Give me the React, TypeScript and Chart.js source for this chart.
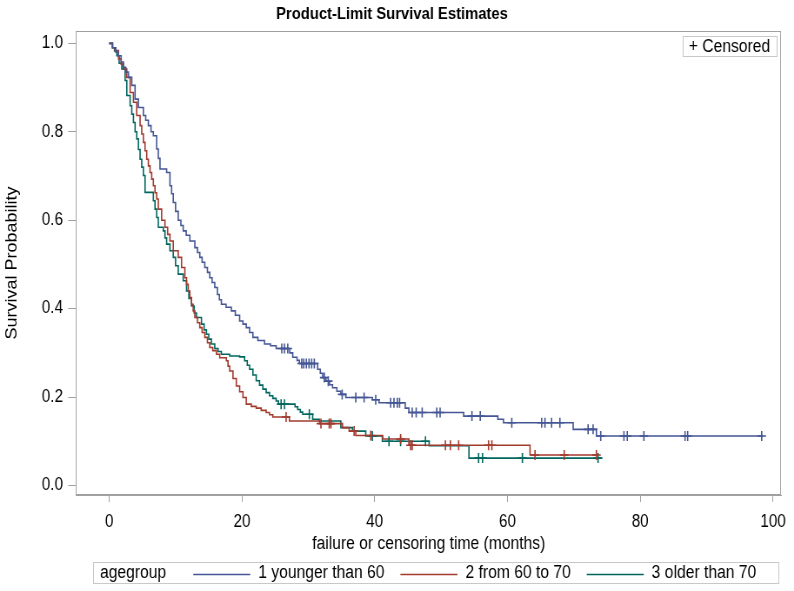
import React, { useEffect, useRef } from "react";
import { Chart, registerables } from "chart.js";

Chart.register(...registerables);

const FONT = "'Liberation Sans', Arial, sans-serif";

const chartTitle = "Product-Limit Survival Estimates";
const xAxisTitle = "failure or censoring time (months)";
const yAxisTitle = "Survival Probability";
const legendTitle = "agegroup";
const insetLabel = "+ Censored";

const groupLabels = ["1 younger than 60", "2 from 60 to 70", "3 older than 70"];
const groupColors = ["#445694", "#A23A2E", "#01665E"];

const xTicks = [0, 20, 40, 60, 80, 100];
const yTicks = [0, 0.2, 0.4, 0.6, 0.8, 1.0];

// [time (months), survival probability after the event]
const youngerSteps = [
  [0, 1], [0.5, 0.99], [1.0, 0.98], [1.4, 0.972], [1.8, 0.958], [2.15, 0.946], [2.5, 0.935],
  [2.9, 0.923], [3.4, 0.905], [3.9, 0.874], [4.4, 0.855], [5.15, 0.837], [5.5, 0.826],
  [5.9, 0.814], [6.3, 0.8], [6.65, 0.791], [7.15, 0.761], [7.4, 0.74], [7.65, 0.716],
  [8.65, 0.708], [9.15, 0.678], [9.4, 0.66], [9.65, 0.64], [10.0, 0.62], [10.4, 0.6],
  [10.8, 0.588], [11.15, 0.576], [11.6, 0.566], [12.15, 0.553], [12.9, 0.538], [13.3, 0.527],
  [13.65, 0.516], [14.0, 0.505], [14.4, 0.493], [14.8, 0.482], [15.15, 0.47], [15.5, 0.459],
  [15.9, 0.448], [16.3, 0.432], [16.6, 0.42], [16.9, 0.41], [17.6, 0.403], [18.4, 0.395],
  [19.0, 0.385], [19.65, 0.372], [20.15, 0.365], [20.65, 0.357], [21.15, 0.346], [21.65, 0.335],
  [22.4, 0.328], [23.4, 0.32], [24.3, 0.316], [25.15, 0.31], [27.2, 0.3], [27.65, 0.29],
  [28.3, 0.283], [28.65, 0.276], [31.4, 0.263], [31.8, 0.254], [32.15, 0.244], [32.65, 0.236],
  [33.2, 0.228], [33.65, 0.221], [34.3, 0.213], [34.9, 0.206], [35.65, 0.199], [39.65, 0.194],
  [40.65, 0.187], [44.6, 0.175], [45.15, 0.165], [53.4, 0.157], [58.55, 0.15], [59.4, 0.142],
  [69.9, 0.127], [73.4, 0.112], [98.5, 0.112],
];
const youngerCensored = [
  26.0, 26.4, 26.9, 29.0, 29.3, 29.7, 30.1, 30.5, 30.9, 32.4, 33.0, 35.1, 37.15, 38.4, 40.15,
  42.4, 42.9, 43.4, 43.75, 45.65, 46.25, 47.15, 49.35, 49.85, 54.65, 55.9, 60.65, 65.15, 65.65,
  66.65, 67.9, 72.15, 72.9, 74.05, 77.55, 78.05, 80.55, 86.75, 87.15, 98.3,
];

const middleSteps = [
  [0, 1], [0.5, 0.99], [0.9, 0.984], [1.4, 0.965], [1.8, 0.953], [2.15, 0.942], [2.65, 0.923],
  [3.15, 0.889], [3.65, 0.867], [4.15, 0.837], [4.65, 0.814], [4.9, 0.795], [5.15, 0.776],
  [5.4, 0.757], [5.65, 0.738], [5.9, 0.723], [6.15, 0.708], [6.4, 0.693], [6.65, 0.678],
  [6.9, 0.662], [7.15, 0.648], [7.4, 0.625], [7.9, 0.6], [8.4, 0.584], [8.8, 0.568],
  [9.15, 0.553], [9.65, 0.531], [10.4, 0.516], [10.9, 0.493], [11.4, 0.47], [11.65, 0.455],
  [11.9, 0.44], [12.15, 0.425], [12.4, 0.41], [12.65, 0.395], [12.9, 0.38], [13.3, 0.368],
  [13.65, 0.357], [14.0, 0.346], [14.4, 0.335], [14.8, 0.323], [15.15, 0.312], [15.6, 0.305],
  [16.15, 0.297], [16.65, 0.289], [17.65, 0.282], [17.9, 0.27], [18.15, 0.259], [18.65, 0.242],
  [19.15, 0.225], [19.65, 0.212], [20.15, 0.199], [20.65, 0.184], [21.4, 0.179], [22.15, 0.175],
  [22.9, 0.17], [23.65, 0.165], [24.15, 0.16], [24.65, 0.155], [27.15, 0.146], [31.7, 0.14],
  [35.15, 0.131], [36.15, 0.123], [37.15, 0.113], [41.2, 0.105], [45.15, 0.091], [63.4, 0.069],
  [73.5, 0.069],
];
const middleCensored = [
  26.65, 31.9, 33.15, 33.4, 36.9, 39.4, 43.9, 45.4, 45.65, 50.65, 51.4, 52.65, 57.15, 57.65,
  64.15, 68.55, 73.4,
];

const olderSteps = [
  [0, 1], [0.5, 0.99], [0.8, 0.983], [1.15, 0.972], [1.5, 0.955], [1.9, 0.942], [2.4, 0.916],
  [2.65, 0.882], [3.15, 0.859], [3.4, 0.84], [3.65, 0.821], [3.9, 0.8], [4.15, 0.784],
  [4.4, 0.76], [4.65, 0.738], [4.9, 0.72], [5.15, 0.701], [5.4, 0.663], [6.65, 0.644],
  [6.9, 0.625], [7.15, 0.606], [7.4, 0.584], [8.15, 0.576], [8.4, 0.56], [8.65, 0.546],
  [9.15, 0.531], [9.65, 0.516], [10.0, 0.497], [10.4, 0.478], [11.15, 0.463], [11.65, 0.44],
  [12.0, 0.423], [12.4, 0.406], [12.8, 0.39], [13.15, 0.38], [13.9, 0.365], [14.3, 0.352],
  [14.65, 0.342], [15.0, 0.331], [15.4, 0.32], [15.9, 0.31], [16.4, 0.303], [16.9, 0.297],
  [18.15, 0.293], [19.65, 0.291], [20.4, 0.282], [20.8, 0.272], [21.15, 0.263], [21.65, 0.25],
  [22.15, 0.237], [22.65, 0.227], [23.15, 0.218], [23.65, 0.21], [24.15, 0.203], [24.65, 0.197],
  [25.15, 0.191], [25.5, 0.184], [28.0, 0.178], [28.4, 0.172], [28.8, 0.166], [29.15, 0.161],
  [30.65, 0.15], [31.65, 0.146], [34.9, 0.131], [36.65, 0.123], [38.65, 0.112], [41.15, 0.1],
  [48.2, 0.09], [54.2, 0.062], [74.2, 0.062],
];
const olderCensored = [
  25.9, 26.4, 30.15, 39.65, 42.15, 43.9, 47.65, 55.65, 56.25, 62.25, 73.65,
];

const allSteps = [youngerSteps, middleSteps, olderSteps];
const allCensored = [youngerCensored, middleCensored, olderCensored];

// The reference text is horizontally condensed; the canvas is drawn wider and squeezed by K.
const K = 0.8697;
const W_OUT = 794;
const H_OUT = 591;
const W_INT = Math.round(W_OUT / K);

function survivalAt(steps: number[][], t: number): number {
  let v = steps[0][1];
  for (const [tt, s] of steps) {
    if (tt <= t) v = s;
    else break;
  }
  return v;
}

const overlayPlugin = {
  id: "samOverlay",
  afterDraw(chart: any) {
    const { ctx, chartArea } = chart;
    const { left, right, top, bottom } = chartArea;
    ctx.save();
    ctx.strokeStyle = "#a0a0a0";
    ctx.lineWidth = 1;
    ctx.strokeRect(Math.round(left) + 0.5, Math.round(top) + 0.5, Math.round(right - left) - 1, Math.round(bottom - top) - 1);

    // inset "+ Censored"
    ctx.font = `18px ${FONT}`;
    ctx.textBaseline = "middle";
    ctx.textAlign = "left";
    const insetW = Math.round(ctx.measureText(insetLabel).width + 13 / K);
    const insetX = Math.round(right - 4 / K - insetW);
    const insetY = Math.round(top + 5);
    ctx.fillStyle = "#ffffff";
    ctx.fillRect(insetX, insetY, insetW, 21);
    ctx.strokeStyle = "#c8c8c8";
    ctx.strokeRect(insetX + 0.5, insetY + 0.5, insetW - 1, 20);
    ctx.fillStyle = "#000000";
    ctx.fillText(insetLabel, insetX + 6 / K, insetY + 11);

    // bottom legend
    const boxL = Math.round(93 / K), boxR = Math.round(779 / K), boxT = 562, boxH = 22;
    ctx.strokeStyle = "#c8c8c8";
    ctx.strokeRect(boxL + 0.5, boxT + 0.5, boxR - boxL - 1, boxH - 1);
    const cy = boxT + boxH / 2 + 0.5;
    let x = boxL + 7 / K;
    ctx.fillStyle = "#000000";
    ctx.fillText(legendTitle, x, cy);
    x += ctx.measureText(legendTitle).width + 27 / K;
    groupLabels.forEach((lab, i) => {
      ctx.strokeStyle = groupColors[i];
      ctx.lineWidth = 1.6;
      ctx.beginPath();
      ctx.moveTo(x, Math.round(cy) + 0.5);
      ctx.lineTo(x + 57 / K, Math.round(cy) + 0.5);
      ctx.stroke();
      x += 65 / K;
      ctx.fillStyle = "#000000";
      ctx.fillText(lab, x, cy);
      x += ctx.measureText(lab).width + 16 / K;
    });
    ctx.restore();
  },
};

export default function App() {
  const canvasRef = useRef<HTMLCanvasElement | null>(null);

  useEffect(() => {
    if (!canvasRef.current) return;
    const tickSize = 17.5;
    const labelSize = 18;
    const titleSize = 17;
    const lh = 1.2;

    const datasets: any[] = [];
    allSteps.forEach((steps, i) => {
      datasets.push({
        label: groupLabels[i],
        data: steps.map(([t, s]) => ({ x: t, y: s })),
        stepped: true,
        borderColor: groupColors[i],
        borderWidth: 1.6,
        pointRadius: 0,
        fill: false,
        order: 1,
      });
    });
    allCensored.forEach((times, i) => {
      datasets.push({
        label: groupLabels[i] + " censored",
        data: times.map((t) => ({ x: t, y: survivalAt(allSteps[i], t) })),
        showLine: false,
        pointStyle: "cross",
        pointRadius: 5,
        pointBorderWidth: 1.6,
        borderColor: groupColors[i],
        backgroundColor: groupColors[i],
        order: 0,
      });
    });

    const chart = new Chart(canvasRef.current, {
      type: "line",
      data: { datasets },
      options: {
        animation: false,
        responsive: false,
        devicePixelRatio: 1,
        layout: { padding: { left: 0, right: W_INT - 784 / K, top: 0, bottom: 35 } },
        plugins: {
          legend: { display: false },
          tooltip: { enabled: false },
          title: {
            display: true,
            text: chartTitle,
            color: "#000000",
            font: { family: FONT, size: titleSize, weight: "bold", lineHeight: lh },
            padding: { top: 14 - (titleSize * lh) / 2, bottom: 31 - 14 - (titleSize * lh) / 2 },
          },
        },
        scales: {
          x: {
            type: "linear",
            min: -5,
            max: 101.3,
            afterBuildTicks: (scale: any) => {
              scale.ticks = xTicks.map((v) => ({ value: v }));
            },
            afterFit: (scale: any) => {
              scale.height = 61;
            },
            ticks: {
              color: "#000000",
              font: { family: FONT, size: tickSize, lineHeight: lh },
              padding: 522 - 495 - 7 - (tickSize * lh) / 2,
              maxRotation: 0,
              callback: (v: any) => String(v),
            },
            grid: { drawOnChartArea: false, drawTicks: true, tickLength: 7, color: "#a0a0a0" },
            border: { display: true, color: "#a0a0a0" },
            title: {
              display: true,
              text: xAxisTitle,
              color: "#000000",
              font: { family: FONT, size: labelSize, lineHeight: lh },
              padding: { top: 0, bottom: 556 - 544 - (labelSize * lh) / 2 },
            },
          },
          y: {
            type: "linear",
            min: -0.0215,
            max: 1.028,
            afterBuildTicks: (scale: any) => {
              scale.ticks = yTicks.map((v) => ({ value: v }));
            },
            afterFit: (scale: any) => {
              scale.width = 76 / K;
            },
            ticks: {
              color: "#000000",
              font: { family: FONT, size: tickSize, lineHeight: lh },
              padding: 6,
              callback: (v: any) => Number(v).toFixed(1),
            },
            grid: { drawOnChartArea: false, drawTicks: true, tickLength: 9, color: "#a0a0a0" },
            border: { display: true, color: "#a0a0a0" },
            title: {
              display: true,
              text: yAxisTitle,
              color: "#000000",
              font: { family: FONT, size: labelSize, lineHeight: lh },
              padding: { top: Math.max(0, 12 / K - (labelSize * lh) / 2), bottom: 0 },
            },
          },
        },
      },
      plugins: [overlayPlugin],
    });
    return () => chart.destroy();
  }, []);

  return (
    <div
      style={{
        position: "absolute",
        left: 0,
        top: 0,
        width: W_OUT,
        height: H_OUT,
        overflow: "hidden",
        background: "#ffffff",
      }}
    >
      <div style={{ width: W_INT, height: H_OUT, transform: `scaleX(${K})`, transformOrigin: "0 0" }}>
        <canvas ref={canvasRef} width={W_INT} height={H_OUT} style={{ display: "block" }} />
      </div>
    </div>
  );
}
